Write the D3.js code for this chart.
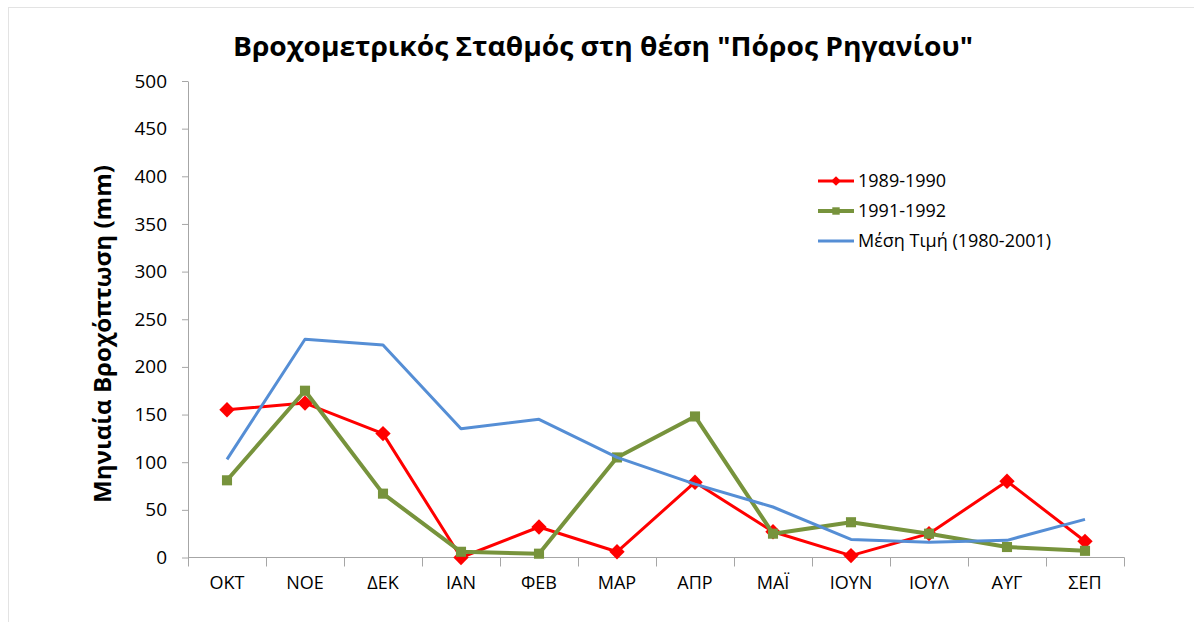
<!DOCTYPE html>
<html>
<head>
<meta charset="utf-8">
<script src="https://cdn.jsdelivr.net/npm/d3@7"></script>
<style>
  body { margin: 0; background: #fff; }
  svg { display: block; font-family: "Open Sans", "DejaVu Sans", sans-serif; }
</style>
</head>
<body>
<div id="chart"></div>
<script>
// months (hydrological year, Oct -> Sep)
const months = ["ΟΚΤ", "ΝΟΕ", "ΔΕΚ", "ΙΑΝ", "ΦΕΒ", "ΜΑΡ", "ΑΠΡ", "ΜΑΪ", "ΙΟΥΝ", "ΙΟΥΛ", "ΑΥΓ", "ΣΕΠ"];
const rain8990 = [155, 162, 130, 0, 32, 6, 79, 27, 2, 25, 80, 17];
const rain9192 = [81, 175, 67, 6, 4, 105, 148, 25, 37, 25, 11, 7];
const rainMean = [103, 229, 223, 135, 145, 105, 77, 53, 19, 16, 18, 40];
const yTicks = [0, 50, 100, 150, 200, 250, 300, 350, 400, 450, 500];

const series = [
    { name: "1989-1990", values: rain8990, color: "#ff0000", width: 3, marker: "diamond" },
    { name: "1991-1992", values: rain9192, color: "#77933c", width: 4, marker: "square" },
    { name: "Μέση Τιμή (1980-2001)", values: rainMean, color: "#558ed5", width: 3, marker: null }
];

const width = 1194, height = 622;
const margin = { top: 81, right: 70, bottom: 64.5, left: 188 };
const plotW = width - margin.left - margin.right;
const plotH = height - margin.top - margin.bottom;

const svg = d3.select("#chart").append("svg")
    .attr("width", width)
    .attr("height", height);

// outer chart border
svg.append("rect")
    .attr("x", 8.5).attr("y", 7.5)
    .attr("width", width).attr("height", height)
    .attr("fill", "none")
    .attr("stroke", "#e3e3e3");

// title
svg.append("text")
    .attr("x", 603).attr("y", 56)
    .attr("text-anchor", "middle")
    .style("font-size", "27px")
    .style("font-weight", "bold")
    .attr("textLength", 740)
    .attr("lengthAdjust", "spacingAndGlyphs")
    .text("Βροχομετρικός Σταθμός στη θέση \"Πόρος Ρηγανίου\"");

// y label
svg.append("text")
    .attr("transform", "translate(111,334) rotate(-90)")
    .attr("text-anchor", "middle")
    .style("font-size", "23px")
    .style("font-weight", "bold")
    .attr("textLength", 338)
    .attr("lengthAdjust", "spacingAndGlyphs")
    .text("Μηνιαία Βροχόπτωση (mm)");

const g = svg.append("g")
    .attr("transform", `translate(${margin.left},${margin.top})`);

const x = d3.scaleBand().domain(months).range([0, plotW]);
const y = d3.scaleLinear().domain([0, 500]).range([plotH, 0]);

// y axis
const yAxis = g.append("g")
    .call(d3.axisLeft(y).tickValues(yTicks).tickSize(6).tickSizeOuter(0).tickPadding(15));
yAxis.select(".domain").attr("stroke", "#a6a6a6");
yAxis.selectAll(".tick line").attr("stroke", "#a6a6a6");
yAxis.selectAll(".tick text")
    .style("font-size", "19px")
    .style("font-family", "'Open Sans', sans-serif")
    .attr("fill", "#000");

// x axis: ticks between categories
const xAxis = g.append("g")
    .attr("transform", `translate(0,${plotH})`)
    .call(d3.axisBottom(x).tickSize(0).tickPadding(19));
xAxis.select(".domain").attr("stroke", "#a6a6a6").attr("d", `M0.5,0H${plotW + 0.5}`);
xAxis.selectAll(".tick text")
    .style("font-size", "18px")
    .style("font-family", "'Open Sans', sans-serif")
    .attr("fill", "#000");
xAxis.selectAll(".sep")
    .data(d3.range(months.length + 1))
    .enter().append("line")
    .attr("class", "sep")
    .attr("x1", i => Math.round(i * x.step()) + 0.5)
    .attr("x2", i => Math.round(i * x.step()) + 0.5)
    .attr("y1", 0).attr("y2", 9)
    .attr("stroke", "#a6a6a6");

const line = d3.line()
    .x((d, i) => x(months[i]) + x.bandwidth() / 2)
    .y(d => y(d));

const diamond = d3.symbol().type(d3.symbolDiamond2).size(150);
const square = d3.symbol().type(d3.symbolSquare2).size(130);

// draw series
series.forEach(s => {
    g.append("path")
        .datum(s.values)
        .attr("fill", "none")
        .attr("stroke", s.color)
        .attr("stroke-width", s.width)
        .attr("stroke-linejoin", "round")
        .attr("d", line);

    if (s.marker) {
        g.selectAll(null)
            .data(s.values)
            .enter().append("path")
            .attr("transform", (d, i) => `translate(${x(months[i]) + x.bandwidth() / 2},${y(d)})`)
            .attr("d", s.marker === "diamond" ? diamond : square)
            .attr("fill", s.color);
    }
});

// legend
const legend = svg.append("g").attr("transform", "translate(818,181)");
series.forEach((s, i) => {
    const row = legend.append("g").attr("transform", `translate(0,${i * 30})`);
    row.append("line")
        .attr("x1", 0).attr("x2", 36)
        .attr("stroke", s.color)
        .attr("stroke-width", s.width);
    if (s.marker) {
        row.append("path")
            .attr("transform", "translate(18,0)")
            .attr("d", s.marker === "diamond"
                ? d3.symbol().type(d3.symbolDiamond2).size(60)
                : d3.symbol().type(d3.symbolSquare2).size(70))
            .attr("fill", s.color);
    }
    row.append("text")
        .attr("x", 40).attr("y", 6)
        .style("font-size", "18px")
        .text(s.name);
});
</script>
</body>
</html>
